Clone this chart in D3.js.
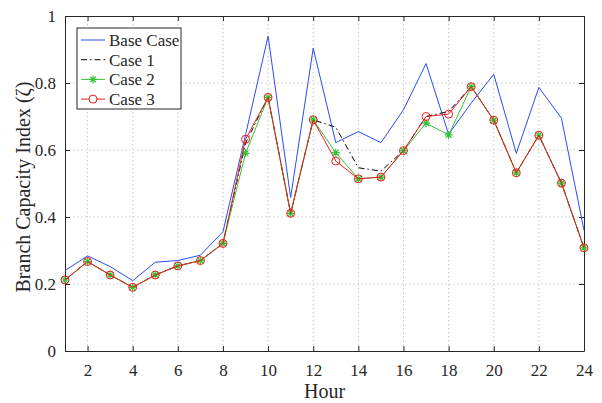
<!DOCTYPE html>
<html lang="en">
  <head>
    <meta charset="utf-8">
    <title>Branch Capacity Index</title>
    <style>
      body { margin: 0; background: #fff; }
      svg text { font-family: "Liberation Serif", "DejaVu Serif", serif; fill: #262626; }
      .grid line { stroke: #c8c8c8; stroke-dasharray: 1.5 2.5; }
    </style>
  </head>
  <body>
    <svg id="chart" width="602" height="403"></svg>
    <script src="https://d3js.org/d3.v7.min.js"></script>
    <script>
      // values
      const hours = d3.range(1, 25);
      const baseCase = [0.240, 0.284, 0.252, 0.210, 0.265, 0.270, 0.286, 0.356, 0.645, 0.940, 0.458, 0.904,
                        0.622, 0.655, 0.622, 0.720, 0.858, 0.647, 0.740, 0.826, 0.590, 0.787, 0.695, 0.360];
      const case1 = [0.212, 0.267, 0.227, 0.190, 0.227, 0.254, 0.270, 0.321, 0.620, 0.757, 0.411, 0.690,
                     0.668, 0.547, 0.537, 0.598, 0.700, 0.715, 0.789, 0.689, 0.532, 0.644, 0.501, 0.308];
      const case2 = [0.212, 0.267, 0.227, 0.190, 0.227, 0.254, 0.270, 0.321, 0.590, 0.757, 0.411, 0.690,
                     0.592, 0.514, 0.519, 0.598, 0.680, 0.645, 0.789, 0.689, 0.532, 0.644, 0.501, 0.308];
      const case3 = [0.212, 0.267, 0.227, 0.190, 0.227, 0.254, 0.270, 0.321, 0.632, 0.757, 0.411, 0.690,
                     0.567, 0.514, 0.519, 0.598, 0.700, 0.707, 0.789, 0.689, 0.532, 0.644, 0.501, 0.308];
      const xTicks = d3.range(2, 25, 2);
      const yTicks = [0, 0.2, 0.4, 0.6, 0.8, 1];
      const seriesNames = ["Base Case", "Case 1", "Case 2", "Case 3"];

      const svg = d3.select("#chart");
      const pLeft = 65, pRight = 584, pTop = 16, pBottom = 351;

      const x = d3.scaleLinear().domain([1, 24]).range([pLeft, pRight]);
      const y = d3.scaleLinear().domain([0, 1]).range([pBottom, pTop]);

      // grid
      const grid = svg.append("g").attr("class", "grid");
      grid.selectAll(".gx").data(xTicks.filter(d => d < 24)).enter().append("line")
        .attr("x1", d => x(d)).attr("x2", d => x(d)).attr("y1", pTop).attr("y2", pBottom);
      grid.selectAll(".gy").data(yTicks.filter(d => d > 0 && d < 1)).enter().append("line")
        .attr("x1", pLeft).attr("x2", pRight).attr("y1", d => y(d)).attr("y2", d => y(d));

      // axes, MATLAB style: ticks inside, box on
      const fmt = d => d === 0 || d === 1 ? String(d) : d3.format(".1f")(d);
      const axB = svg.append("g").attr("transform", `translate(0,${pBottom})`)
        .call(d3.axisBottom(x).tickValues(xTicks).tickSizeInner(-5).tickSizeOuter(0).tickPadding(13));
      const axT = svg.append("g").attr("transform", `translate(0,${pTop})`)
        .call(d3.axisTop(x).tickValues(xTicks).tickSizeInner(-5).tickSizeOuter(0).tickFormat(""));
      const axL = svg.append("g").attr("transform", `translate(${pLeft},0)`)
        .call(d3.axisLeft(y).tickValues(yTicks).tickSizeInner(-5).tickSizeOuter(0).tickPadding(9).tickFormat(fmt));
      const axR = svg.append("g").attr("transform", `translate(${pRight},0)`)
        .call(d3.axisRight(y).tickValues(yTicks).tickSizeInner(-5).tickSizeOuter(0).tickFormat(""));
      [axB, axT, axL, axR].forEach(a => {
        a.selectAll("path, line").attr("stroke", "#262626");
        a.selectAll("text").attr("font-size", 17).attr("fill", "#262626")
          .style("font-family", "'Liberation Serif', serif");
      });

      svg.append("text").attr("x", (pLeft + pRight) / 2).attr("y", 398)
        .attr("text-anchor", "middle").attr("font-size", 20).text("Hour");
      svg.append("text").attr("transform", `translate(30,187) rotate(-90)`)
        .attr("text-anchor", "middle").attr("font-size", 20).text("Branch Capacity Index (ζ)");

      const line = d3.line().x((d, i) => x(hours[i])).y(d => y(d));
      const star = d3.symbol().type({
        draw(ctx, size) {
          const r = Math.sqrt(size) / 2, q = r * 0.7071;
          ctx.moveTo(-r, 0); ctx.lineTo(r, 0);
          ctx.moveTo(0, -r); ctx.lineTo(0, r);
          ctx.moveTo(-q, -q); ctx.lineTo(q, q);
          ctx.moveTo(-q, q); ctx.lineTo(q, -q);
        }
      }).size(64);

      svg.append("path").attr("d", line(baseCase)).attr("fill", "none")
        .attr("stroke", "#2a4cf5").attr("stroke-width", 1);
      svg.append("path").attr("d", line(case1)).attr("fill", "none")
        .attr("stroke", "#000").attr("stroke-width", 1).attr("stroke-dasharray", "6 3 1.5 3");
      svg.append("path").attr("d", line(case2)).attr("fill", "none")
        .attr("stroke", "#36c236").attr("stroke-width", 1);
      svg.append("g").selectAll("path").data(case2).enter().append("path")
        .attr("d", star).attr("transform", (d, i) => `translate(${x(hours[i])},${y(d)})`)
        .attr("stroke", "#36c236").attr("stroke-width", 1.2).attr("fill", "none");
      svg.append("path").attr("d", line(case3)).attr("fill", "none")
        .attr("stroke", "#ee1c1c").attr("stroke-width", 1);
      svg.append("g").selectAll("circle").data(case3).enter().append("circle")
        .attr("cx", (d, i) => x(hours[i])).attr("cy", d => y(d)).attr("r", 4)
        .attr("stroke", "#ee1c1c").attr("stroke-width", 1).attr("fill", "none");

      // legend
      const lg = svg.append("g").attr("transform", "translate(77,28)");
      lg.append("rect").attr("width", 104).attr("height", 81).attr("fill", "#fff")
        .attr("stroke", "#262626").attr("stroke-width", 1);
      const styles = [
        {c: "#2a4cf5", dash: null, mark: null},
        {c: "#000", dash: "6 3 1.5 3", mark: null},
        {c: "#36c236", dash: null, mark: "star"},
        {c: "#ee1c1c", dash: null, mark: "circle"}
      ];
      seriesNames.forEach((name, i) => {
        const yy = 12 + i * 19.7;
        lg.append("line").attr("x1", 4).attr("x2", 28).attr("y1", yy).attr("y2", yy)
          .attr("stroke", styles[i].c).attr("stroke-width", 1).attr("stroke-dasharray", styles[i].dash);
        if (styles[i].mark === "star")
          lg.append("path").attr("d", star).attr("transform", `translate(16,${yy})`)
            .attr("stroke", styles[i].c).attr("stroke-width", 1.2).attr("fill", "none");
        if (styles[i].mark === "circle")
          lg.append("circle").attr("cx", 16).attr("cy", yy).attr("r", 4)
            .attr("stroke", styles[i].c).attr("fill", "#fff");
        lg.append("text").attr("x", 32).attr("y", yy + 6).attr("font-size", 17).text(name);
      });
    </script>
  </body>
</html>
